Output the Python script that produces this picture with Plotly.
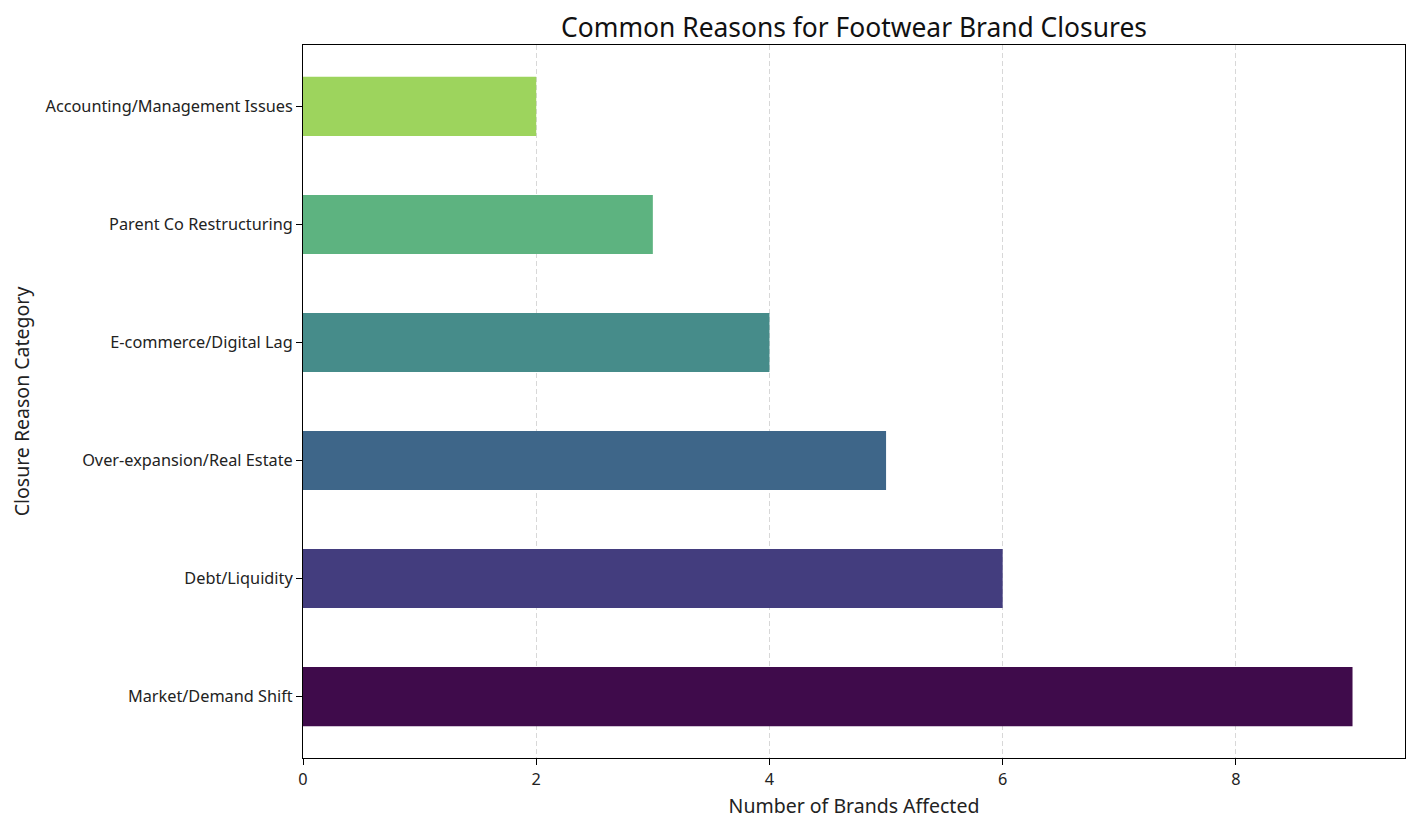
# Footwear brand closures - horizontal bar chart

import plotly.graph_objects as go

# Data
reasons = [
    'Market/Demand Shift',
    'Debt/Liquidity',
    'Over-expansion/Real Estate',
    'E-commerce/Digital Lag',
    'Parent Co Restructuring',
    'Accounting/Management Issues',
]
brand_counts = [9, 6, 5, 4, 3, 2]
bar_colors = ['#3f0b4b', '#433d7e', '#3e6689', '#468c8a', '#5db380', '#9dd45d']
x_ticks = [0, 2, 4, 6, 8]

FONT = 'Noto Sans'

fig = go.Figure()

fig.add_trace(go.Bar(
    x=brand_counts,
    y=reasons,
    orientation='h',
    width=0.5,
    marker=dict(color=bar_colors, line=dict(width=0)),
    hovertemplate='%{y}<br>Brands: %{x}<extra></extra>'
))

# page body adds 8px, so the figure is a bit smaller than the window
fig.update_layout(
    width=1402,
    height=812,
    margin=dict(l=295, r=5, t=37, b=62),
    plot_bgcolor='white',
    paper_bgcolor='white',
    font=dict(family=FONT, size=16.3, color='#222222'),
    title=dict(
        text='Common Reasons for Footwear Brand Closures',
        x=(295 + 1397) / 2 / 1402, xanchor='center',
        y=1 - 20 / 812, yanchor='middle',
        font=dict(family=FONT, size=26.4, color='#111111')
    ),
    showlegend=False,
    bargap=0.5,
)

fig.update_xaxes(
    range=[0, 9.45],
    tickvals=x_ticks,
    ticks='outside', ticklen=6, tickcolor='black',
    showline=True, linecolor='black', linewidth=1, mirror=True,
    showgrid=True, gridcolor='rgba(190,190,190,0.6)', griddash='5px,3px', gridwidth=1,
    zeroline=False,
    title=dict(text='Number of Brands Affected', font=dict(family=FONT, size=19.5), standoff=10),
)

fig.update_yaxes(
    range=[-0.52, 5.52],
    ticks='outside', ticklen=6, tickcolor='black',
    showline=True, linecolor='black', linewidth=1, mirror=True,
    showgrid=False, zeroline=False,
    title=dict(text='Closure Reason Category', font=dict(family=FONT, size=19.5), standoff=10),
)

fig.write_html("out.html")
